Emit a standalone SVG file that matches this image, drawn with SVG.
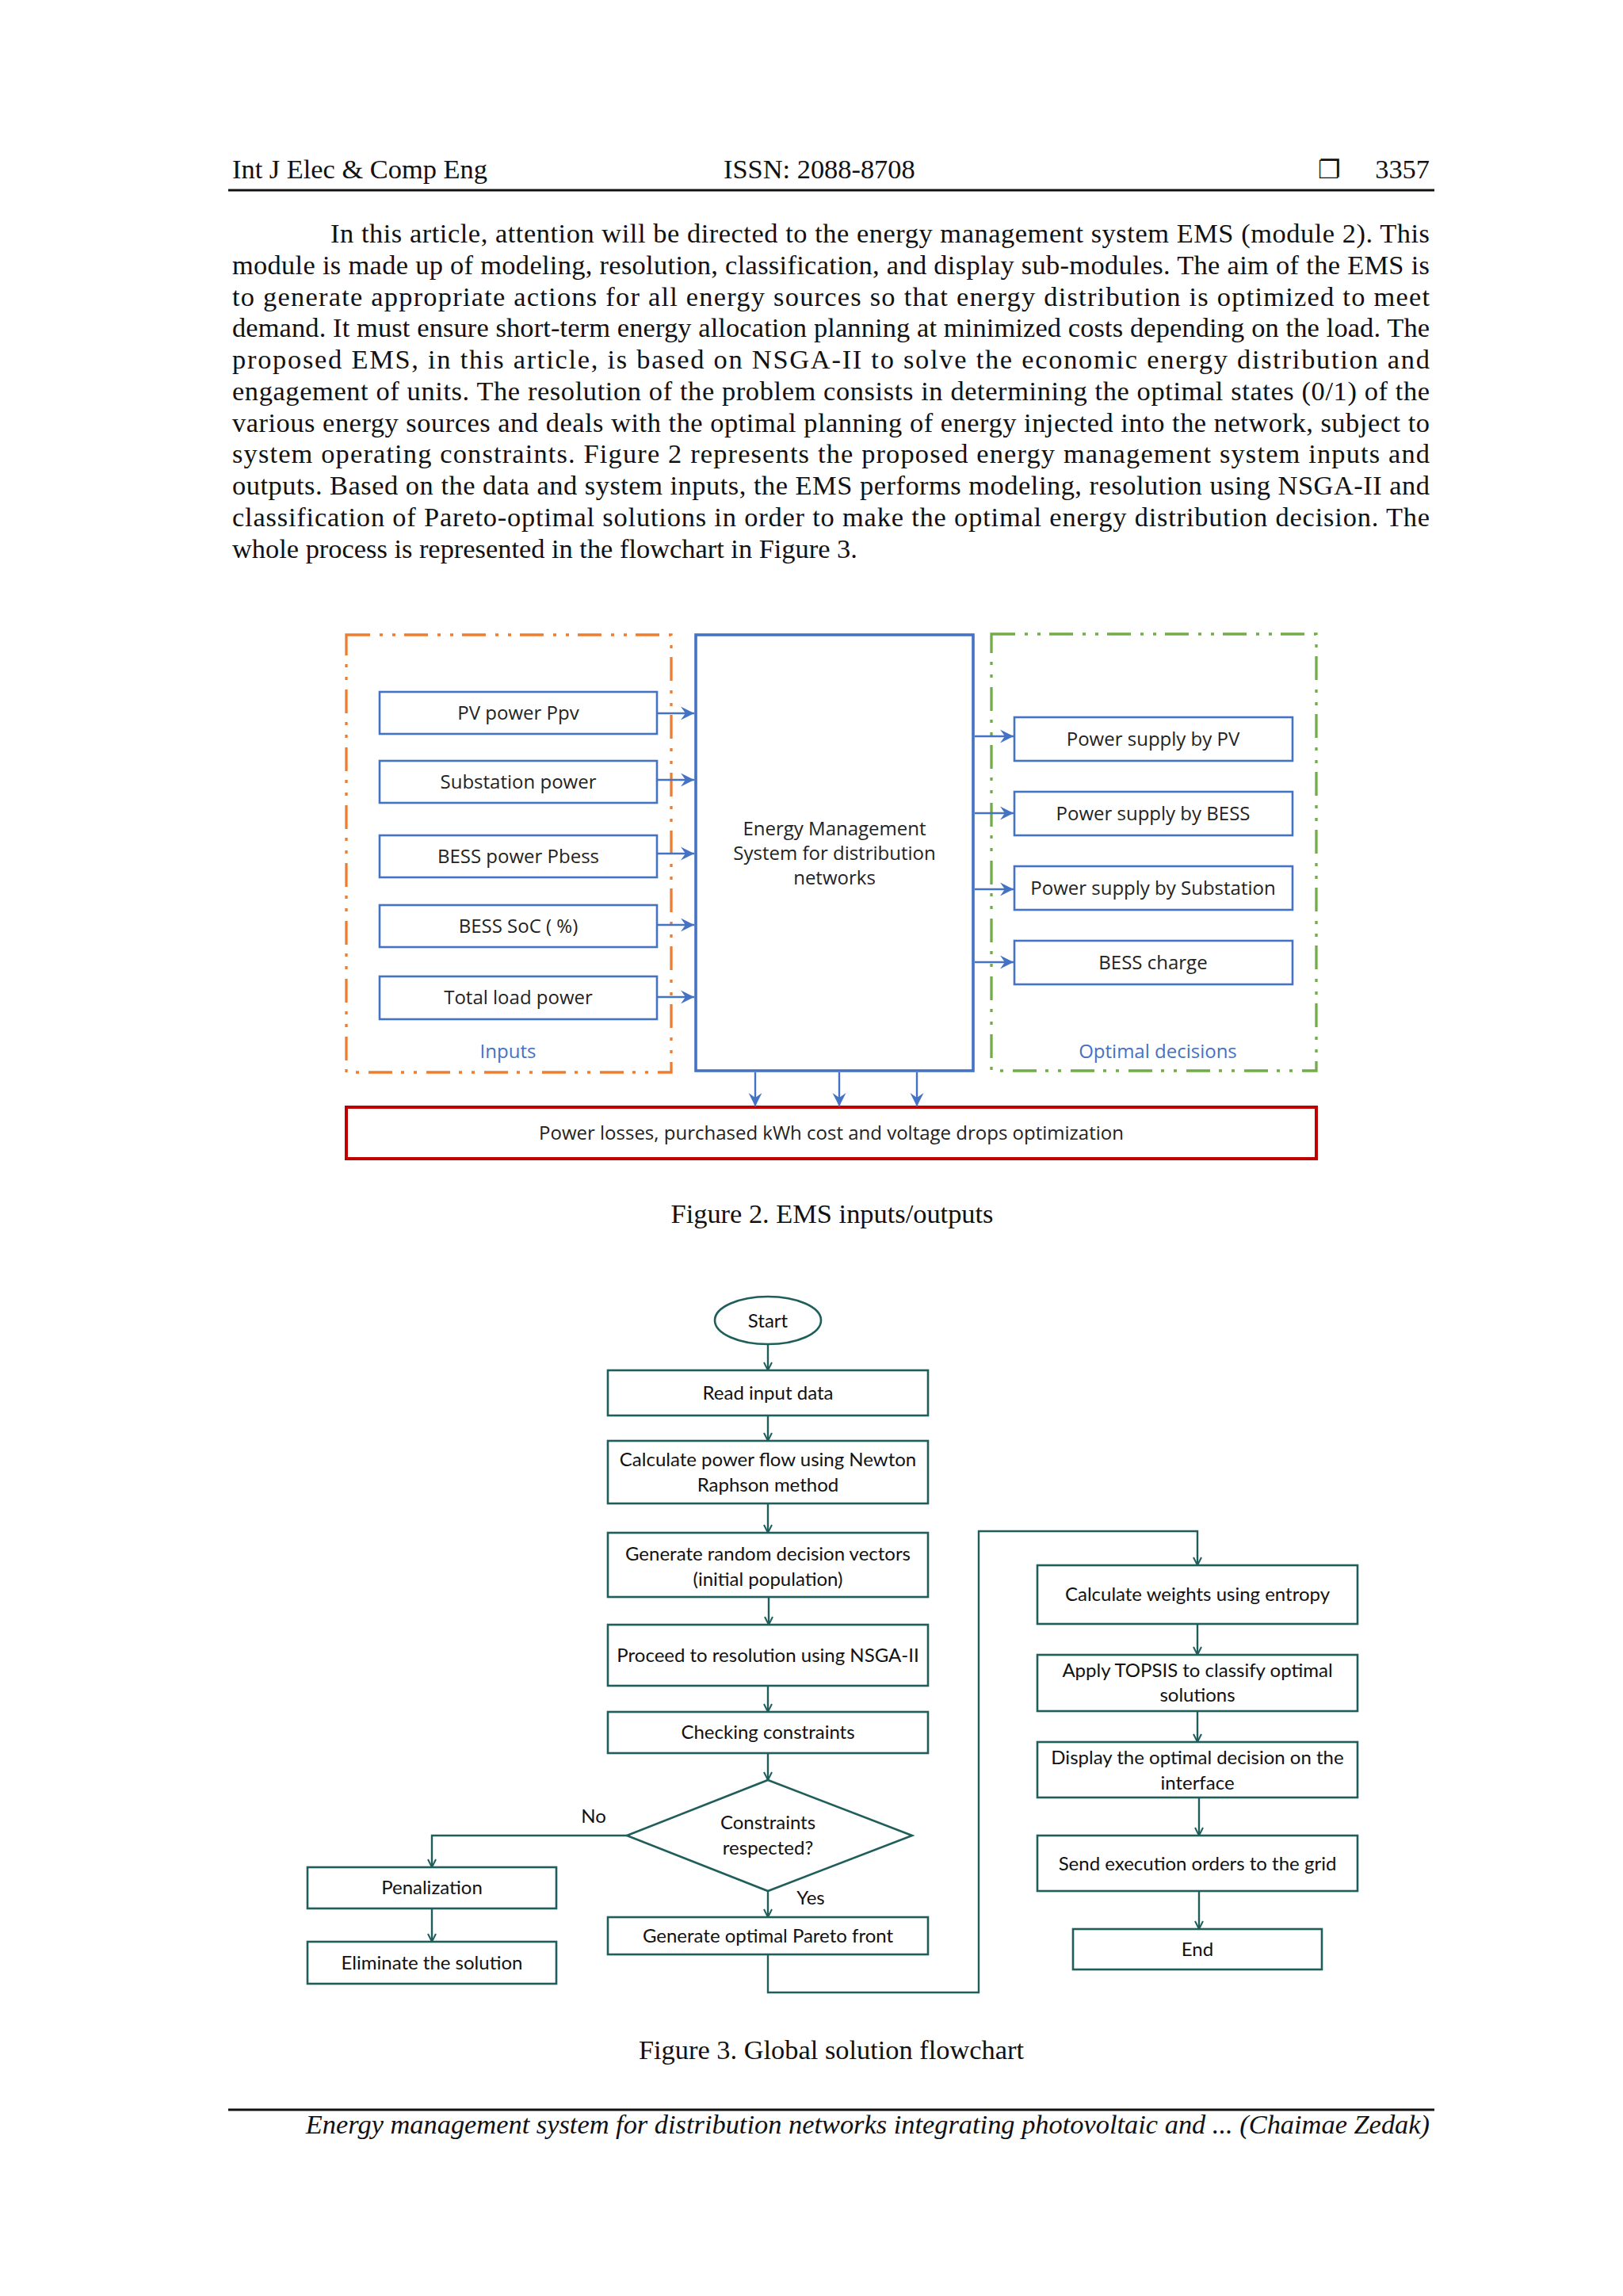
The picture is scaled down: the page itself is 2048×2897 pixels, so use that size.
<svg xmlns="http://www.w3.org/2000/svg" width="2048" height="2897" viewBox="0 0 2048 2897">
<style>
.serif{font-family:"Liberation Serif","Times New Roman",serif;font-size:34.4px;fill:#111}
.it{font-style:italic}
.f2{font-family:"Open Sans","Noto Sans",sans-serif;font-size:24px;fill:#222;text-anchor:middle}
.f2b{font-family:"Open Sans","Noto Sans",sans-serif;font-size:24px;fill:#4472C4;text-anchor:middle}
.bbox{fill:#fff;stroke:#4472C4;stroke-width:2.6}
.fc{font-family:Lato,"Open Sans",sans-serif;font-size:24px;fill:#111;text-anchor:middle}
.fbox{fill:#fff;stroke:#1F5E5B;stroke-width:2.6}
.bl{stroke:#4472C4;stroke-width:2.4;fill:none}
.tl{stroke:#1F5E5B;stroke-width:2.4;fill:none}
.dd{fill:none;stroke-width:3.3;stroke-dasharray:30 12 4 12 4 11}
</style>
<defs>
<marker id="ab" viewBox="0 0 18 18" refX="17" refY="9" markerWidth="18" markerHeight="18" markerUnits="userSpaceOnUse" orient="auto">
<path d="M0,0.5 L17,9 L0,17.5 L6,9 Z" fill="#4472C4"/>
</marker>
<marker id="at" viewBox="0 0 12 12" refX="11" refY="6" markerWidth="12" markerHeight="12" markerUnits="userSpaceOnUse" orient="auto">
<path d="M1,1 L11,6 L1,11" fill="none" stroke="#1F5E5B" stroke-width="2"/>
</marker>
</defs>
<rect width="2048" height="2897" fill="#fff"/>

<g id="header">
<text class="serif" x="293" y="225">Int J Elec &amp; Comp Eng</text>
<text class="serif" x="913" y="225">ISSN: 2088-8708</text>
<text x="1663" y="225" style="font-family:'DejaVu Sans',sans-serif;font-size:32px;fill:#111">❐</text>
<text class="serif" x="1804" y="225" text-anchor="end">3357</text>
<line x1="288" y1="240" x2="1810" y2="240" stroke="#111" stroke-width="3"/>
</g>

<g id="body">
<text class="serif" x="417" y="306" textLength="1387" lengthAdjust="spacing">In this article, attention will be directed to the energy management system EMS (module 2). This</text>
<text class="serif" x="293" y="346" textLength="1511" lengthAdjust="spacing">module is made up of modeling, resolution, classification, and display sub-modules. The aim of the EMS is</text>
<text class="serif" x="293" y="386" textLength="1511" lengthAdjust="spacing">to generate appropriate actions for all energy sources so that energy distribution is optimized to meet</text>
<text class="serif" x="293" y="425" textLength="1511" lengthAdjust="spacing">demand. It must ensure short-term energy allocation planning at minimized costs depending on the load. The</text>
<text class="serif" x="293" y="465" textLength="1511" lengthAdjust="spacing">proposed EMS, in this article, is based on NSGA-II to solve the economic energy distribution and</text>
<text class="serif" x="293" y="505" textLength="1511" lengthAdjust="spacing">engagement of units. The resolution of the problem consists in determining the optimal states (0/1) of the</text>
<text class="serif" x="293" y="545" textLength="1511" lengthAdjust="spacing">various energy sources and deals with the optimal planning of energy injected into the network, subject to</text>
<text class="serif" x="293" y="584" textLength="1511" lengthAdjust="spacing">system operating constraints. Figure 2 represents the proposed energy management system inputs and</text>
<text class="serif" x="293" y="624" textLength="1511" lengthAdjust="spacing">outputs. Based on the data and system inputs, the EMS performs modeling, resolution using NSGA-II and</text>
<text class="serif" x="293" y="664" textLength="1511" lengthAdjust="spacing">classification of Pareto-optimal solutions in order to make the optimal energy distribution decision. The</text>
<text class="serif" x="293" y="704">whole process is represented in the flowchart in Figure 3.</text>
</g>

<!-- Figure 2 -->
<g id="inputs-group">
<rect class="dd" x="437" y="801" width="410" height="552" stroke="#ED7D31"/>
<text class="f2b" x="641" y="1335">Inputs</text>
</g>
<g id="decisions-group">
<rect class="dd" x="1251" y="800" width="410" height="551" stroke="#70AD47"/>
<text class="f2b" x="1461" y="1335">Optimal decisions</text>
</g>
<g id="in-pv"><rect class="bbox" x="479" y="873" width="350" height="53"/><text class="f2" x="654" y="908">PV power Ppv</text></g>
<g id="in-sub"><rect class="bbox" x="479" y="960" width="350" height="53"/><text class="f2" x="654" y="995">Substation power</text></g>
<g id="in-bess"><rect class="bbox" x="479" y="1054" width="350" height="53"/><text class="f2" x="654" y="1089">BESS power Pbess</text></g>
<g id="in-soc"><rect class="bbox" x="479" y="1142" width="350" height="53"/><text class="f2" x="654" y="1177">BESS SoC ( %)</text></g>
<g id="in-load"><rect class="bbox" x="479" y="1232" width="350" height="54"/><text class="f2" x="654" y="1267">Total load power</text></g>
<g id="ems"><rect x="878" y="801" width="350" height="550" fill="#fff" stroke="#4472C4" stroke-width="3.6"/>
<text class="f2" x="1053" y="1054">Energy Management</text>
<text class="f2" x="1053" y="1085">System for distribution</text>
<text class="f2" x="1053" y="1116">networks</text></g>
<g id="out-pv"><rect class="bbox" x="1280" y="905" width="351" height="55"/><text class="f2" x="1455" y="941">Power supply by PV</text></g>
<g id="out-bess"><rect class="bbox" x="1280" y="999" width="351" height="55"/><text class="f2" x="1455" y="1035">Power supply by BESS</text></g>
<g id="out-sub"><rect class="bbox" x="1280" y="1093" width="351" height="55"/><text class="f2" x="1455" y="1129">Power supply by Substation</text></g>
<g id="out-charge"><rect class="bbox" x="1280" y="1187" width="351" height="55"/><text class="f2" x="1455" y="1223">BESS charge</text></g>
<g id="objective"><rect x="437" y="1397" width="1224" height="65" fill="#fff" stroke="#C00000" stroke-width="4"/>
<text class="f2" x="1049" y="1438">Power losses, purchased kWh cost and voltage drops optimization</text></g>

<g id="fig2-connectors">
<line class="bl" x1="829" y1="900" x2="876" y2="900" marker-end="url(#ab)"/>
<line class="bl" x1="829" y1="984" x2="876" y2="984" marker-end="url(#ab)"/>
<line class="bl" x1="829" y1="1077" x2="876" y2="1077" marker-end="url(#ab)"/>
<line class="bl" x1="829" y1="1167" x2="876" y2="1167" marker-end="url(#ab)"/>
<line class="bl" x1="829" y1="1258" x2="876" y2="1258" marker-end="url(#ab)"/>
<line class="bl" x1="1230" y1="929" x2="1279" y2="929" marker-end="url(#ab)"/>
<line class="bl" x1="1230" y1="1026" x2="1279" y2="1026" marker-end="url(#ab)"/>
<line class="bl" x1="1230" y1="1122" x2="1279" y2="1122" marker-end="url(#ab)"/>
<line class="bl" x1="1230" y1="1214" x2="1279" y2="1214" marker-end="url(#ab)"/>
<line class="bl" x1="953" y1="1353" x2="953" y2="1396" marker-end="url(#ab)"/>
<line class="bl" x1="1059" y1="1353" x2="1059" y2="1396" marker-end="url(#ab)"/>
<line class="bl" x1="1157" y1="1353" x2="1157" y2="1396" marker-end="url(#ab)"/>
</g>
<text class="serif" x="1050" y="1543" text-anchor="middle">Figure 2. EMS inputs/outputs</text>

<!-- Figure 3 -->
<g id="start"><ellipse cx="969" cy="1666" rx="67" ry="30" fill="#fff" stroke="#1F5E5B" stroke-width="2.6"/><text class="fc" x="969" y="1675">Start</text></g>
<g id="read"><rect class="fbox" x="767" y="1729" width="404" height="57"/><text class="fc" x="969" y="1766">Read input data</text></g>
<g id="calc"><rect class="fbox" x="767" y="1818" width="404" height="79"/><text class="fc" x="969" y="1850">Calculate power flow using Newton</text><text class="fc" x="969" y="1882">Raphson method</text></g>
<g id="gen"><rect class="fbox" x="767" y="1934" width="404" height="81"/><text class="fc" x="969" y="1969">Generate random decision vectors</text><text class="fc" x="969" y="2001">(initial population)</text></g>
<g id="proceed"><rect class="fbox" x="767" y="2050" width="404" height="77"/><text class="fc" x="969" y="2097">Proceed to resolution using NSGA-II</text></g>
<g id="check"><rect class="fbox" x="767" y="2160" width="404" height="52"/><text class="fc" x="969" y="2194">Checking constraints</text></g>
<g id="decision"><polygon points="969,2246 1151,2316 969,2386 791,2316" fill="#fff" stroke="#1F5E5B" stroke-width="2.6"/><text class="fc" x="969" y="2308">Constraints</text><text class="fc" x="969" y="2340">respected?</text></g>
<g id="penal"><rect class="fbox" x="388" y="2356" width="314" height="52"/><text class="fc" x="545" y="2390">Penalization</text></g>
<g id="elim"><rect class="fbox" x="388" y="2450" width="314" height="53"/><text class="fc" x="545" y="2485">Eliminate the solution</text></g>
<g id="pareto"><rect class="fbox" x="767" y="2419" width="404" height="47"/><text class="fc" x="969" y="2451">Generate optimal Pareto front</text></g>
<g id="weights"><rect class="fbox" x="1309" y="1975" width="404" height="74"/><text class="fc" x="1511" y="2020">Calculate weights using entropy</text></g>
<g id="topsis"><rect class="fbox" x="1309" y="2088" width="404" height="71"/><text class="fc" x="1511" y="2116">Apply TOPSIS to classify optimal</text><text class="fc" x="1511" y="2147">solutions</text></g>
<g id="display"><rect class="fbox" x="1309" y="2198" width="404" height="70"/><text class="fc" x="1511" y="2226">Display the optimal decision on the</text><text class="fc" x="1511" y="2258">interface</text></g>
<g id="send"><rect class="fbox" x="1309" y="2316" width="404" height="70"/><text class="fc" x="1511" y="2360">Send execution orders to the grid</text></g>
<g id="end"><rect class="fbox" x="1354" y="2434" width="314" height="51"/><text class="fc" x="1511" y="2468">End</text></g>

<g id="fig3-connectors">
<line class="tl" x1="969" y1="1696" x2="969" y2="1729" marker-end="url(#at)"/>
<line class="tl" x1="969" y1="1786" x2="969" y2="1818" marker-end="url(#at)"/>
<line class="tl" x1="969" y1="1897" x2="969" y2="1934" marker-end="url(#at)"/>
<line class="tl" x1="970" y1="2015" x2="970" y2="2050" marker-end="url(#at)"/>
<line class="tl" x1="969" y1="2127" x2="969" y2="2160" marker-end="url(#at)"/>
<line class="tl" x1="969" y1="2212" x2="969" y2="2246" marker-end="url(#at)"/>
<polyline class="tl" points="791,2316 545,2316 545,2356" marker-end="url(#at)"/>
<line class="tl" x1="545" y1="2408" x2="545" y2="2450" marker-end="url(#at)"/>
<line class="tl" x1="969" y1="2386" x2="969" y2="2419" marker-end="url(#at)"/>
<polyline class="tl" points="969,2466 969,2514 1235,2514 1235,1932 1511,1932 1511,1975" marker-end="url(#at)"/>
<line class="tl" x1="1511" y1="2049" x2="1511" y2="2088" marker-end="url(#at)"/>
<line class="tl" x1="1511" y1="2159" x2="1511" y2="2198" marker-end="url(#at)"/>
<line class="tl" x1="1513" y1="2268" x2="1513" y2="2316" marker-end="url(#at)"/>
<line class="tl" x1="1513" y1="2386" x2="1513" y2="2434" marker-end="url(#at)"/>
</g>
<text class="fc" x="749" y="2300">No</text>
<text class="fc" x="1023" y="2403">Yes</text>
<text class="serif" x="1049" y="2598" text-anchor="middle">Figure 3. Global solution flowchart</text>

<g id="footer">
<line x1="288" y1="2662" x2="1810" y2="2662" stroke="#111" stroke-width="3"/>
<text class="serif it" x="1804" y="2692" text-anchor="end">Energy management system for distribution networks integrating photovoltaic and ... (Chaimae Zedak)</text>
</g>
</svg>
